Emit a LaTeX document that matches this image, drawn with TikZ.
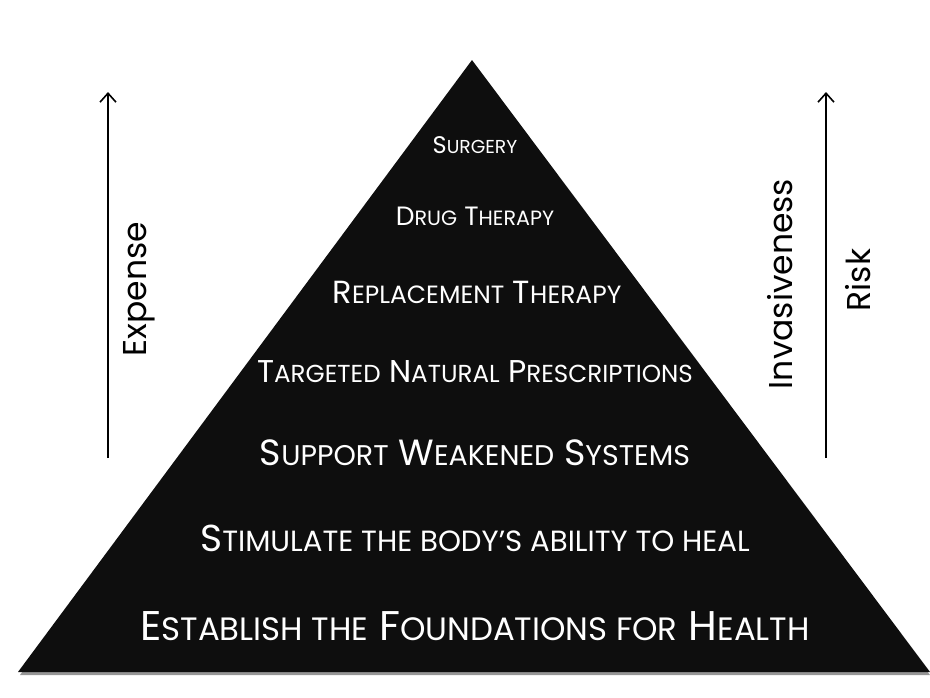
\documentclass[tikz,border=0pt]{standalone}
\usepackage{fontspec}
\setmainfont{Poppins}
\usepackage{graphicx}
\usetikzlibrary{arrows.meta, positioning}
\definecolor{pyrblack}{RGB}{14,14,14}
\definecolor{pyrshade}{RGB}{150,150,150}
\newcommand\smc[1]{\scalebox{0.78}{#1}}
\newcommand\fsz[1]{\fontsize{#1}{#1}\selectfont}

\begin{document}
\begin{tikzpicture}[x=1pt,y=-1pt,every node/.style={inner sep=0pt},
    tier/.style={text=white,anchor=base},
    axislabel/.style={rotate=90,anchor=center,font=\fsz{33}},
    axisarrow/.style={line width=1.6pt,-{Straight Barb[length=9pt,width=16pt]}}]
    \useasboundingbox (0,0) rectangle (930,697);
    % pyramid
    \coordinate (apex) at (472,60);
    \coordinate (baseL) at (18,672);
    \coordinate (baseR) at (930,672);
    \fill[pyrshade] (472,63) -- (20,675) -- (930,675) -- cycle;
    \fill[pyrblack] (apex) -- (baseL) -- (baseR) -- cycle;
    % tiers, top to bottom
    \node[tier,font=\fsz{24}] (surgery) at (475,153) {S\smc{URGERY}};
    \node[tier,font=\fsz{26.5}] (drug) at (475,225) {D\smc{RUG} T\smc{HERAPY}};
    \node[tier,font=\fsz{32}] (replace) at (477,303) {R\smc{EPLACEMENT} T\smc{HERAPY}};
    \node[tier,font=\fsz{31.5}] (targeted) at (475,382) {T\smc{ARGETED} N\smc{ATURAL} P\smc{RESCRIPTIONS}};
    \node[tier,font=\fsz{36.5}] (support) at (475,465) {S\smc{UPPORT} W\smc{EAKENED} S\smc{YSTEMS}};
    \node[tier,font=\fsz{37.5}] (stimulate) at (475,551) {S\smc{TIMULATE THE BODY’S ABILITY TO HEAL}};
    \node[tier,font=\fsz{41.5}] (establish) at (475,640) {E\smc{STABLISH THE} F\smc{OUNDATIONS FOR} H\smc{EALTH}};
    % side axes
    \coordinate (expBot) at (108,458);
    \coordinate (expTop) at (108,92);
    \coordinate (riskBot) at (826,458);
    \coordinate (riskTop) at (826,92);
    \draw[axisarrow] (expBot) -- (expTop);
    \draw[axisarrow] (riskBot) -- (riskTop);
    \node[axislabel] (expense) at (139,289) {Expense};
    \node[axislabel] (invasive) at (780,284) {Invasiveness};
    \node[axislabel] (risk) at (858,280) {Risk};
\end{tikzpicture}
\end{document}
